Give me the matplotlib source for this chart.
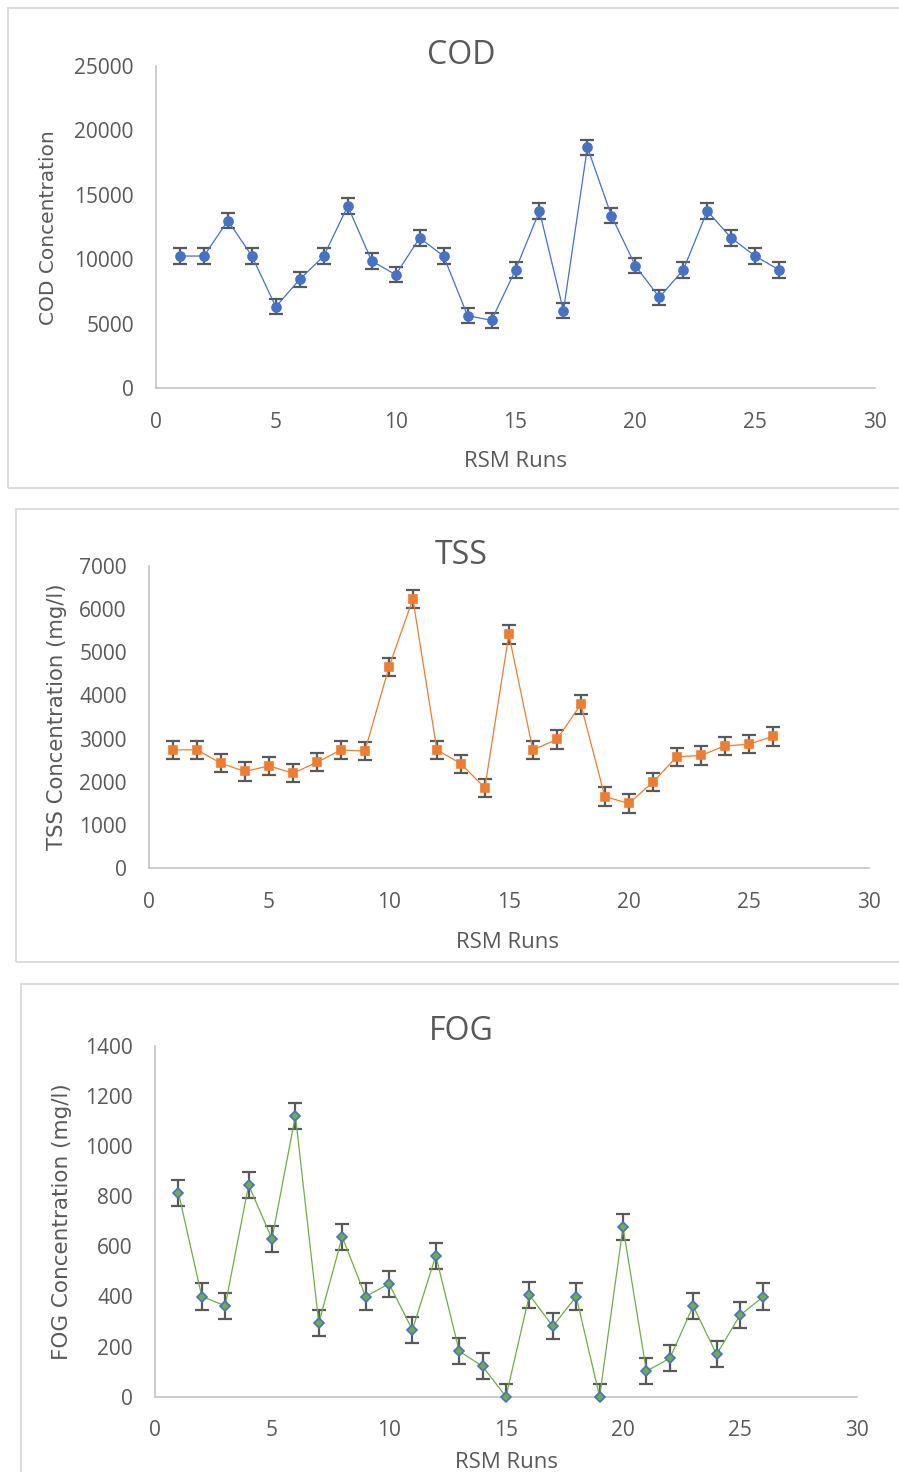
import numpy as np
import matplotlib
matplotlib.use("Agg")
import matplotlib.pyplot as plt
from matplotlib.patches import Rectangle

plt.rcParams["font.family"] = ["Open Sans", "DejaVu Sans"]

runs = list(range(1, 27))

cod = [10250, 10250, 13000, 10250, 6320, 8450, 10250, 14120, 9870, 8800,
       11650, 10250, 5630, 5270, 9170, 13740, 6010, 18680, 13380, 9500,
       7050, 9170, 13740, 11650, 10250, 9170]
cod_err = 600

tss = [2740, 2740, 2430, 2240, 2370, 2200, 2450, 2740, 2710, 4650,
       6230, 2740, 2420, 1860, 5410, 2740, 2980, 3790, 1660, 1500,
       1990, 2580, 2610, 2830, 2870, 3050]
tss_err = 210

fog = [815, 400, 363, 845, 630, 1122, 294, 638, 400, 451,
       267, 563, 182, 121, 0, 406, 281, 400, 0, 677,
       102, 153, 362, 169, 325, 400]
fog_err = 52

W, H = 899, 1472
TXT = "#595959"
AX = "#bfbfbf"

fig = plt.figure(figsize=(W / 100, H / 100), dpi=100)


def px(x, y):
    return x / W, 1 - y / H


def panel(box, ax_px, title, title_xy, ylab, ylab_xy, ylab_size, xlab_xy,
          vals, err, ymax, ystep, marker, mfc, mec, lc, ms):
    # chart box border
    x0, y0, x1, y1 = box
    fig.patches.append(Rectangle(px(x0, y1), (x1 - x0) / W, (y1 - y0) / H,
                                 transform=fig.transFigure, fill=False,
                                 edgecolor="#d9d9d9", linewidth=1.3))
    l, t, r, b = ax_px
    ax = fig.add_axes([l / W, 1 - b / H, (r - l) / W, (b - t) / H])
    ax.errorbar(runs, vals, yerr=err, fmt="none", ecolor="#595959",
                elinewidth=1.6, capsize=5, capthick=1.6, zorder=2)
    ax.plot(runs, vals, color=lc, linewidth=0.9, marker=marker, ms=ms,
            mfc=mfc, mec=mec, mew=1.2, zorder=3, clip_on=False)
    ax.set_xlim(0, 30)
    ax.set_ylim(0, ymax)
    ax.set_xticks(range(0, 31, 5))
    ax.set_yticks(range(0, ymax + 1, ystep))
    for s in ["top", "right"]:
        ax.spines[s].set_visible(False)
    for s in ["left", "bottom"]:
        ax.spines[s].set_color(AX)
        ax.spines[s].set_linewidth(1.1)
    ax.tick_params(axis="x", length=0, pad=17, labelsize=15, labelcolor=TXT)
    ax.tick_params(axis="y", length=0, pad=16, labelsize=15, labelcolor=TXT)
    fig.text(*px(*title_xy), title, ha="center", va="center",
             fontsize=23, color=TXT)
    fig.text(*px(*xlab_xy), "RSM Runs", ha="center", va="center",
             fontsize=16, color=TXT)
    fig.text(*px(*ylab_xy), ylab, ha="center", va="center", rotation=90,
             fontsize=ylab_size, color=TXT, family="DejaVu Sans")
    return ax


panel((8, 8, 920, 488), (156, 65.7, 875, 388.3), "COD", (461, 55),
      "COD Concentration", (49, 228), 14.5, (515, 462),
      cod, cod_err, 25000, 5000, "o", "#4472C4", "#4472C4", "#4472C4", 6.5)

panel((16, 509, 920, 962), (149, 565.7, 868.7, 868.3), "TSS", (461, 555),
      "TSS Concentration (mg/l)", (57, 717), 15.3, (508, 942),
      tss, tss_err, 7000, 1000, "s", "#ED7D31", "#ED7D31", "#ED7D31", 6)

panel((21, 984, 920, 1490), (155, 1046, 857, 1396.7), "FOG", (461, 1031),
      "FOG Concentration (mg/l)", (62, 1222), 15.5, (506, 1462),
      fog, fog_err, 1400, 200, "D", "#70AD47", "#4472C4", "#70AD47", 5.5)

fig.savefig("out.png", dpi=100)
